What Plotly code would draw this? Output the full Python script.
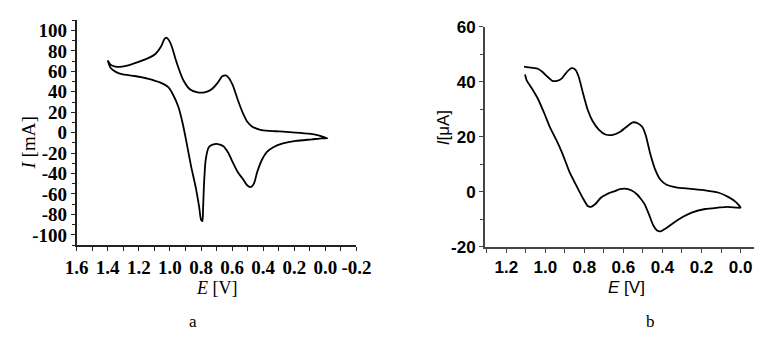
import plotly.graph_objects as go

# ---- data: panel a (E in V, I in mA) ----
a_E = [1.399, 1.382, 1.351, 1.320, 1.268, 1.206, 1.144, 1.092, 1.057, 1.036, 1.024, 1.011, 0.988, 0.967,
       0.947, 0.916, 0.874, 0.822, 0.770, 0.729, 0.692, 0.663, 0.640, 0.621, 0.594, 0.563, 0.532, 0.501,
       0.470, 0.418, 0.356, 0.294, 0.211, 0.107, 0.045, 0.014, -0.013,
       0.024, 0.086, 0.190, 0.273, 0.335, 0.376, 0.408, 0.439, 0.459, 0.480, 0.505, 0.532, 0.563, 0.594,
       0.625, 0.656, 0.692, 0.725, 0.750, 0.770, 0.781, 0.787, 0.791, 0.800, 0.812, 0.833, 0.864, 0.895,
       0.920, 0.947, 0.978, 1.009, 1.061, 1.144, 1.227, 1.310, 1.351, 1.382, 1.399]
a_I = [70.3, 66.6, 64.7, 64.4, 65.9, 69.0, 72.7, 77.3, 84.4, 91.5, 93.1, 91.5, 84.4, 73.7,
       64.4, 52.1, 42.8, 39.4, 39.8, 42.8, 49.0, 55.2, 56.1, 53.6, 45.9, 32.0, 19.7, 10.5,
       5.9, 2.8, 1.8, 1.2, 0.3, -0.9, -2.5, -4.0, -5.5,
       -5.5, -6.5, -8.0, -10.5, -14.2, -18.8, -26.5, -38.8, -49.6, -53.3, -51.2, -45.0, -38.8, -29.6,
       -19.7, -13.3, -11.1, -11.7, -14.2, -26.5, -51.2, -75.8, -86.6, -85.1, -72.7, -54.2, -32.7, -8.0,
       10.5, 25.9, 36.7, 44.4, 49.0, 53.0, 55.5, 57.3, 59.8, 63.5, 70.3]

# ---- data: panel b (E in V, I in uA) ----
b_E = [1.109, 1.071, 1.038, 1.014, 0.989, 0.964, 0.940, 0.915, 0.890, 0.865, 0.846, 0.829, 0.808, 0.783,
       0.758, 0.725, 0.692, 0.659, 0.618, 0.577, 0.552, 0.527, 0.503, 0.486, 0.462, 0.437, 0.412, 0.379,
       0.330, 0.264, 0.181, 0.115, 0.066, 0.025, 0.000,
       0.017, 0.066, 0.115, 0.181, 0.247, 0.297, 0.346, 0.379, 0.409, 0.429, 0.448, 0.470, 0.491, 0.511,
       0.527, 0.560, 0.593, 0.618, 0.643, 0.676, 0.692, 0.717, 0.742, 0.766, 0.783, 0.808, 0.841, 0.874,
       0.893, 0.915, 0.940, 0.973, 1.006, 1.038, 1.071, 1.096, 1.104]
b_I = [45.6, 45.2, 44.8, 43.6, 41.9, 40.4, 40.4, 41.3, 43.6, 45.0, 44.5, 41.9, 36.2, 29.9,
       25.8, 22.6, 20.9, 20.7, 21.8, 24.1, 25.3, 25.0, 23.6, 20.7, 13.8, 8.1, 4.6, 2.6,
       1.7, 1.2, 0.6, -0.2, -1.7, -3.6, -5.7,
       -5.7, -5.4, -5.7, -6.2, -7.4, -9.1, -11.4, -13.1, -14.3, -13.9, -12.0, -8.0, -4.5, -2.5,
       -1.1, 0.6, 1.2, 1.0, 0.3, -0.5, -1.1, -2.2, -4.3, -5.4, -5.1, -2.2, 2.3, 6.9,
       10.4, 14.4, 18.4, 23.0, 28.7, 33.9, 37.9, 40.7, 42.7]

# tick labels
a_xticks = [1.6, 1.4, 1.2, 1.0, 0.8, 0.6, 0.4, 0.2, 0.0, -0.2]
a_xtext = ["1.6", "1.4", "1.2", "1.0", "0.8", "0.6", "0.4", "0.2", "0.0", "-0.2"]
a_yticks = [100, 80, 60, 40, 20, 0, -20, -40, -60, -80, -100]
a_ytext = ["100", "80", "60", "40", "20", "0", "-20", "-40", "-60", "-80", "-100"]
b_xticks = [1.2, 1.0, 0.8, 0.6, 0.4, 0.2, 0.0]
b_xtext = ["1.2", "1.0", "0.8", "0.6", "0.4", "0.2", "0.0"]
b_yticks = [60, 40, 20, 0, -20]
b_ytext = ["60", "40", "20", "0", "-20"]

W, H = 769, 341
SERIF = "Liberation Serif, DejaVu Serif, serif"
SANS = "Liberation Sans, Arial, sans-serif"

def bold(lst): return ["<b>%s</b>" % t for t in lst]

fig = go.Figure()
fig.add_trace(go.Scatter(x=a_E, y=a_I, mode="lines", line=dict(color="black", width=1.8, shape="spline", smoothing=0.6),
                         xaxis="x", yaxis="y", showlegend=False, hoverinfo="skip"))
fig.add_trace(go.Scatter(x=b_E, y=b_I, mode="lines", line=dict(color="black", width=1.8, shape="spline", smoothing=0.6),
                         xaxis="x2", yaxis="y2", showlegend=False, hoverinfo="skip"))

def px(v): return v / W
def py(v): return 1 - v / H

ax_common = dict(showgrid=False, zeroline=False, showline=True, ticks="outside", ticklen=4,
                 tickwidth=1.2, linewidth=1.5, fixedrange=True)

fig.update_layout(
    width=W, height=H, margin=dict(l=0, r=0, t=0, b=0),
    paper_bgcolor="white", plot_bgcolor="white",
    xaxis=dict(domain=[px(67), px(357)], range=[1.6, -0.2], anchor="y",
               tickvals=a_xticks, ticktext=bold(a_xtext),
               tickfont=dict(family=SERIF, size=19, color="black", weight="bold"),
               linecolor="#222", tickcolor="#222",
               minor=dict(dtick=0.1, tick0=0, ticks="outside", ticklen=4, tickcolor="#222", tickwidth=1.2),
               **ax_common),
    yaxis=dict(domain=[py(250), py(12)], range=[-110, 110], anchor="x",
               tickvals=a_yticks, ticktext=bold(a_ytext),
               tickfont=dict(family=SERIF, size=19, color="black", weight="bold"),
               linecolor="#222", tickcolor="#222",
               minor=dict(dtick=10, tick0=0, ticks="outside", ticklen=3, tickcolor="#222", tickwidth=1.2),
               **ax_common),
    xaxis2=dict(domain=[px(490), 1.0], range=[1.31, -0.069], anchor="y2",
                tickvals=b_xticks, ticktext=bold(b_xtext),
                tickfont=dict(family=SANS, size=17, color="black", weight="bold"),
                linecolor="#444", tickcolor="#444",
                minor=dict(dtick=0.1, tick0=0, ticks="outside", ticklen=4, tickcolor="#444", tickwidth=1.2),
                **ax_common),
    yaxis2=dict(domain=[py(252), py(19)], range=[-20, 60], anchor="x2",
                tickvals=b_yticks, ticktext=bold(b_ytext),
                tickfont=dict(family=SANS, size=17, color="black", weight="bold"),
                linecolor="#444", tickcolor="#444",
                minor=dict(dtick=10, tick0=0, ticks="outside", ticklen=3, tickcolor="#444", tickwidth=1.2),
                **ax_common),
)

def ann(text, x, y, family, size, angle=0):
    fig.add_annotation(text=text, x=px(x), y=py(y), xref="paper", yref="paper",
                       showarrow=False, textangle=angle, xanchor="center", yanchor="middle",
                       font=dict(family=family, size=size, color="black"))

ann("<i>E</i> [V]", 212, 295, SERIF, 18)
ann("<i>I</i> [mA]", 17, 142, SERIF, 19, -90)
ann("a", 188, 331, SERIF, 17)
ann("<i>E</i> [V]", 637, 295, SANS, 17)
ann("<i>I</i>[μA]", 448, 126, SANS, 17, -90)
ann("b", 662, 331, SERIF, 17)

fig.write_html("out.html")
